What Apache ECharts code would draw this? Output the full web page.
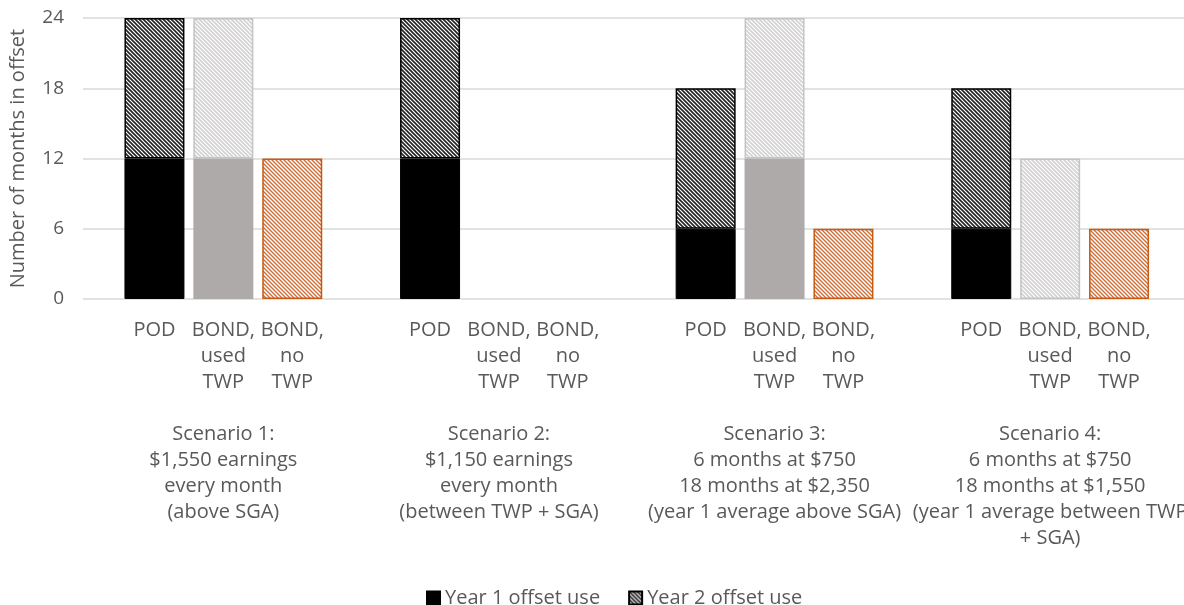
<!DOCTYPE html>
<html>
<head>
<meta charset="utf-8">
<script src="https://cdn.jsdelivr.net/npm/echarts@6/dist/echarts.min.js"></script>
<style>
  html, body { margin: 0; padding: 0; background: #ffffff; }
  #chart { width: 1184px; height: 605px; }
</style>
</head>
<body>
<div id="chart"></div>
<script>
// Bar slots: three bars per scenario, an empty slot between scenarios
const categories = [
  'POD', 'BOND,\nused\nTWP', 'BOND,\nno\nTWP', '',
  'POD', 'BOND,\nused\nTWP', 'BOND,\nno\nTWP', '',
  'POD', 'BOND,\nused\nTWP', 'BOND,\nno\nTWP', '',
  'POD', 'BOND,\nused\nTWP', 'BOND,\nno\nTWP'
];

const scenarioCaptions = [
  'Scenario 1:\n$1,550 earnings\nevery month\n(above SGA)',
  'Scenario 2:\n$1,150 earnings\nevery month\n(between TWP + SGA)',
  'Scenario 3:\n6 months at $750\n18 months at $2,350\n(year 1 average above SGA)',
  'Scenario 4:\n6 months at $750\n18 months at $1,550\n(year 1 average between TWP\n+ SGA)'
];

// Months of offset used in year 1 and year 2
const year1 = [12, 12, 0, null, 12, 0, 0, null, 6, 12, 0, null, 6, 0, 0];
const year2 = [12, 12, 12, null, 12, 0, 0, null, 12, 12, 6, null, 12, 12, 6];

const yTicks = [0, 6, 12, 18, 24];
const seriesNames = ['Year 1 offset use', 'Year 2 offset use'];

const TEXT = '#595959';
const FONT = 'Open Sans';

// Diagonal hatch tile used as a repeating fill
function hatch(lineColor, period, lineWidth) {
  const c = document.createElement('canvas');
  c.width = period; c.height = period;
  const g = c.getContext('2d');
  g.fillStyle = '#ffffff';
  g.fillRect(0, 0, period, period);
  g.strokeStyle = lineColor;
  g.lineWidth = lineWidth;
  for (let k = -period; k <= period; k += period) {
    g.beginPath();
    g.moveTo(k - 1, -1);
    g.lineTo(k + period + 1, period + 1);
    g.stroke();
  }
  return { image: c, repeat: 'repeat' };
}

const hatchBlack = hatch('#222222', 4, 1.6);
const hatchGray = hatch('#d3d1d1', 4, 1.6);
const hatchOrange = hatch('#d0703a', 4, 1.4);

// Styles per bar kind: 0 = POD, 1 = BOND used TWP, 2 = BOND no TWP
const year1Styles = [
  { color: '#000000', borderColor: '#000000', borderWidth: 1 },
  { color: '#aeaaaa', borderColor: '#aeaaaa', borderWidth: 0 },
  { color: '#c55a11', borderColor: '#c55a11', borderWidth: 0 }
];
const year2Styles = [
  { color: hatchBlack, borderColor: '#000000', borderWidth: 1.5 },
  { color: hatchGray, borderColor: '#c4c4c4', borderWidth: 1.5 },
  { color: hatchOrange, borderColor: '#c55a11', borderWidth: 1.5 }
];

function styledData(values, styles) {
  return values.map((v, i) => {
    if (v === null) return '-';
    const s = Object.assign({}, styles[i % 4]);
    if (!v) s.borderWidth = 0;
    return { value: v, itemStyle: s };
  });
}

const chart = echarts.init(document.getElementById('chart'), null, { renderer: 'canvas' });

chart.setOption({
  animation: false,
  backgroundColor: '#ffffff',
  grid: [
    // value axis and gridlines
    { left: 83, right: 0, top: 18, bottom: 306, outerBoundsMode: 'none', containLabel: false },
    // bars
    { left: 120, right: 30.5, top: 18, bottom: 306, outerBoundsMode: 'none', containLabel: false }
  ],
  legend: {
    data: seriesNames,
    left: 421,
    top: 583,
    itemWidth: 13,
    itemHeight: 13,
    itemGap: 28,
    icon: 'rect',
    textStyle: { color: TEXT, fontFamily: FONT, fontSize: 20 }
  },
  xAxis: [
    { gridIndex: 0, type: 'category', data: [''], show: false },
    {
      gridIndex: 1,
      type: 'category',
      data: categories,
      axisLine: { show: false },
      axisTick: { show: false },
      axisLabel: {
        interval: 0,
        margin: 18,
        color: TEXT,
        fontFamily: FONT,
        fontSize: 20,
        lineHeight: 26,
        align: 'center',
        formatter: function (value, index) {
          if (index % 4 === 1) {
            return value + '\n\n' + scenarioCaptions[(index - 1) / 4];
          }
          return value;
        }
      }
    }
  ],
  yAxis: [
    {
      gridIndex: 0,
      type: 'value',
      min: yTicks[0],
      max: yTicks[yTicks.length - 1],
      interval: yTicks[1] - yTicks[0],
      name: 'Number of months in offset',
      nameLocation: 'middle',
      nameGap: 55,
      nameTextStyle: { color: TEXT, fontFamily: FONT, fontSize: 20 },
      axisLine: { show: false },
      axisTick: { show: false },
      axisLabel: { color: TEXT, fontFamily: FONT, fontSize: 19, margin: 19 },
      splitLine: { lineStyle: { color: '#d9d9d9', width: 1.5 } }
    },
    {
      gridIndex: 1,
      type: 'value',
      min: yTicks[0],
      max: yTicks[yTicks.length - 1],
      interval: yTicks[1] - yTicks[0],
      show: false,
      splitLine: { show: false }
    }
  ],
  series: [
    {
      name: seriesNames[0],
      type: 'bar',
      stack: 'months',
      xAxisIndex: 1,
      yAxisIndex: 1,
      barWidth: 60,
      itemStyle: { color: '#000000', borderColor: '#000000', borderWidth: 1 },
      data: styledData(year1, year1Styles)
    },
    {
      name: seriesNames[1],
      type: 'bar',
      stack: 'months',
      xAxisIndex: 1,
      yAxisIndex: 1,
      barWidth: 60,
      itemStyle: { color: hatchBlack, borderColor: '#000000', borderWidth: 1.5 },
      data: styledData(year2, year2Styles)
    }
  ]
});
</script>
</body>
</html>
